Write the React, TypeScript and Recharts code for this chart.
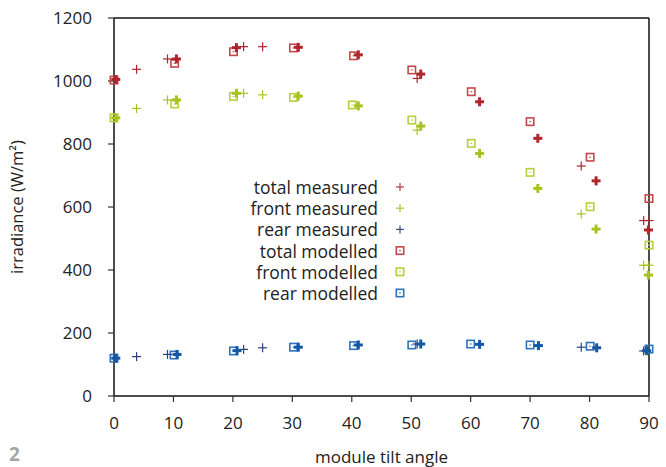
import React from "react";
import { ScatterChart, Scatter, XAxis, YAxis, ReferenceLine } from "recharts";

// [tilt angle, irradiance W/m²]
const totalMeasured = [[3.8, 1037], [9.0, 1070], [21.8, 1109], [25, 1109], [51, 1008], [78.6, 730], [89.1, 557], [90, 557]];
const frontMeasured = [[3.8, 913], [9.0, 940], [21.8, 961], [25, 956], [51, 844], [78.6, 578], [89.1, 415], [90, 415]];
const rearMeasured = [[3.8, 125], [9.0, 132], [21.8, 148], [25, 153], [51, 165], [78.6, 155], [89.1, 143]];

const totalMeasuredMean = [[0.3, 1005], [10.5, 1070], [20.6, 1106], [31, 1107], [41.1, 1083], [51.6, 1022], [61.5, 934], [71.3, 818], [81.1, 683], [89.9, 527]];
const frontMeasuredMean = [[0.3, 883], [10.5, 940], [20.6, 961], [31, 952], [41.1, 921], [51.6, 857], [61.5, 770], [71.3, 659], [81.1, 530], [89.9, 384]];
const rearMeasuredMean = [[0.3, 120], [10.6, 132], [20.7, 144], [31, 155], [41.1, 162], [51.6, 165], [61.5, 164], [71.4, 160], [81.2, 153], [89.6, 144]];

const totalModelled = [[0, 1003], [10.2, 1056], [20.1, 1093], [30.2, 1105], [40.3, 1080], [50.1, 1035], [60.1, 966], [70, 871], [80.1, 758], [90, 627]];
const frontModelled = [[0, 883], [10.2, 927], [20.1, 951], [30.2, 948], [40.1, 924], [50.1, 876], [60.1, 802], [70, 710], [80.1, 601], [90, 479]];
const rearModelled = [[0, 120], [10.1, 130], [20.1, 143], [30.2, 155], [40.3, 160], [50.1, 162], [60, 165], [70, 162], [80.1, 158], [90, 149]];

const xTicks = [0, 10, 20, 30, 40, 50, 60, 70, 80, 90];
const yTicks = [0, 200, 400, 600, 800, 1000, 1200];

const legendLabels = ["total measured", "front measured", "rear measured", "total modelled", "front modelled", "rear modelled"];

const RED = "#b0252b";
const GREEN = "#a6c41e";
const BLUE = "#1457a5";
const NAVY = "#2c3f78";
const RED_SQ = "#c2484b";
const GREEN_SQ = "#b5d03c";
const BLUE_SQ = "#2f72bd";

const FONT = "'Open Sans', 'Noto Sans', sans-serif";

const toPts = (arr: number[][]) => arr.map(([x, y]) => ({ x, y }));

const thinPlus = (color: string) => (props: any) => {
  const { cx, cy } = props;
  if (cx == null || cy == null) return null;
  return (
    <g stroke={color} strokeWidth={1.2}>
      <line x1={cx - 4.5} y1={cy} x2={cx + 4.5} y2={cy} />
      <line x1={cx} y1={cy - 4.5} x2={cx} y2={cy + 4.5} />
    </g>
  );
};

const boldPlus = (color: string) => (props: any) => {
  const { cx, cy } = props;
  if (cx == null || cy == null) return null;
  return (
    <g stroke={color} strokeWidth={3}>
      <line x1={cx - 4.5} y1={cy} x2={cx + 4.5} y2={cy} />
      <line x1={cx} y1={cy - 4.5} x2={cx} y2={cy + 4.5} />
    </g>
  );
};

const square = (color: string) => (props: any) => {
  const { cx, cy } = props;
  if (cx == null || cy == null) return null;
  return (
    <g>
      <rect x={cx - 3.7} y={cy - 3.7} width={7.4} height={7.4} fill="none" stroke={color} strokeWidth={1.6} />
      <rect x={cx - 1} y={cy - 0.5} width={2} height={1} fill={color} />
    </g>
  );
};

const legendMarkers = [
  { color: "#c0393b", kind: "plus" },
  { color: "#a8c834", kind: "plus" },
  { color: "#3a4b80", kind: "plus" },
  { color: RED_SQ, kind: "sq" },
  { color: GREEN_SQ, kind: "sq" },
  { color: BLUE_SQ, kind: "sq" },
];

const LegendOverlay = () => (
  <svg width={666} height={467} style={{ position: "absolute", left: 0, top: 0, pointerEvents: "none" }}>
    {legendLabels.map((label, i) => {
      const y = 187 + i * 21.2;
      const m = legendMarkers[i];
      return (
        <g key={label}>
          <text x={378} y={y} textAnchor="end" dominantBaseline="central" fontFamily={FONT} fontSize={17.5} fill="#222">
            {label}
          </text>
          {m.kind === "plus" ? (
            <g stroke={m.color} strokeWidth={1.2}>
              <line x1={396} y1={y} x2={404} y2={y} />
              <line x1={400} y1={y - 4} x2={400} y2={y + 4} />
            </g>
          ) : (
            <g>
              <rect x={396.3} y={y - 3.7} width={7.4} height={7.4} fill="none" stroke={m.color} strokeWidth={1.6} />
              <rect x={399} y={y - 0.5} width={2} height={1} fill={m.color} />
            </g>
          )}
        </g>
      );
    })}
  </svg>
);

export default function App() {
  const tickStyle = { fontFamily: FONT, fontSize: 17, fill: "#222" };
  return (
    <div style={{ position: "absolute", left: 0, top: 0, width: 666, height: 467, background: "#fff" }}>
      <ScatterChart width={666} height={467} margin={{ top: 18, right: 17, left: 0, bottom: 0 }}>
        <XAxis
          type="number"
          dataKey="x"
          domain={[0, 90]}
          ticks={xTicks}
          tick={tickStyle}
          tickSize={6}
          tickMargin={15}
          height={71}
          stroke="#111"
          strokeWidth={1.5}
          tickLine={{ stroke: "#333", strokeWidth: 1.2 }}
          label={{ value: "module tilt angle", position: "insideBottom", offset: 4, style: { fontFamily: FONT, fontSize: 17, fill: "#222" } }}
        />
        <YAxis
          type="number"
          dataKey="y"
          domain={[0, 1200]}
          ticks={yTicks}
          tick={tickStyle}
          tickSize={6}
          tickMargin={16}
          width={114}
          stroke="#111"
          strokeWidth={1.5}
          tickLine={{ stroke: "#333", strokeWidth: 1.2 }}
          label={{ value: "irradiance (W/m²)", angle: -90, position: "insideLeft", offset: 17, style: { fontFamily: FONT, fontSize: 16.5, fill: "#222", textAnchor: "middle" } }}
        />
        <ReferenceLine x={90} stroke="#111" strokeWidth={1.5} />
        <ReferenceLine y={1200} stroke="#111" strokeWidth={1.5} />
        <Scatter name="total modelled" data={toPts(totalModelled)} shape={square(RED_SQ)} isAnimationActive={false} />
        <Scatter name="front modelled" data={toPts(frontModelled)} shape={square(GREEN_SQ)} isAnimationActive={false} />
        <Scatter name="rear modelled" data={toPts(rearModelled)} shape={square(BLUE_SQ)} isAnimationActive={false} />
        <Scatter name="total measured" data={toPts(totalMeasured)} shape={thinPlus(RED)} isAnimationActive={false} />
        <Scatter name="front measured" data={toPts(frontMeasured)} shape={thinPlus(GREEN)} isAnimationActive={false} />
        <Scatter name="rear measured" data={toPts(rearMeasured)} shape={thinPlus(NAVY)} isAnimationActive={false} />
        <Scatter name="total measured mean" data={toPts(totalMeasuredMean)} shape={boldPlus(RED)} isAnimationActive={false} />
        <Scatter name="front measured mean" data={toPts(frontMeasuredMean)} shape={boldPlus(GREEN)} isAnimationActive={false} />
        <Scatter name="rear measured mean" data={toPts(rearMeasuredMean)} shape={boldPlus(BLUE)} isAnimationActive={false} />
      </ScatterChart>
      <LegendOverlay />
      <div style={{ position: "absolute", left: 9, top: 441, fontFamily: FONT, fontSize: 19, fontWeight: 700, color: "#a6a6a6" }}>2</div>
    </div>
  );
}
